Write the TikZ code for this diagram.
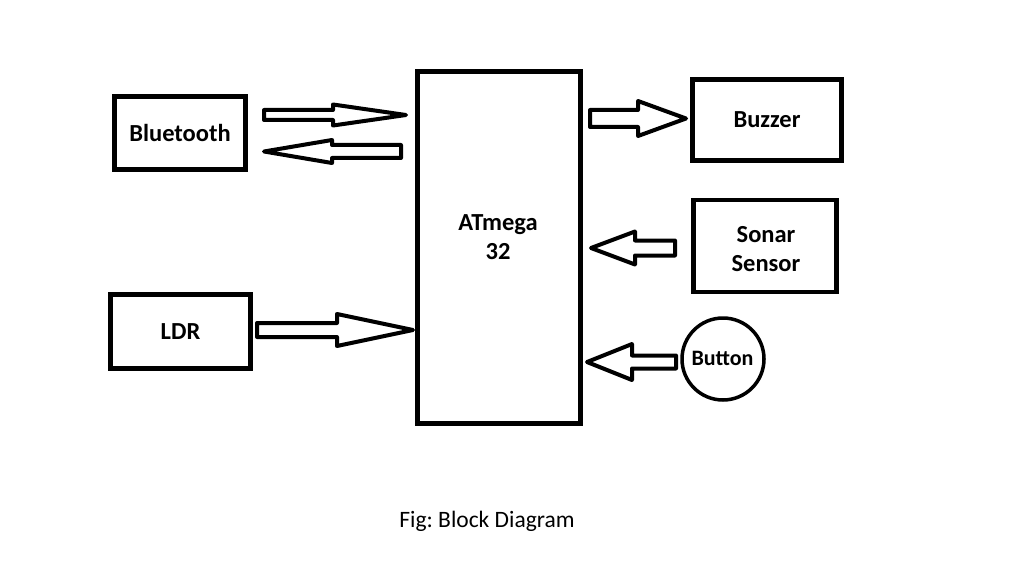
\documentclass[tikz,border=0pt]{standalone}
\usepackage{fontspec}
\setmainfont{Carlito}
\usetikzlibrary{calc}
\frenchspacing
\tikzset{
  boxfont/.style={font=\bfseries\fontsize{24.5}{28.5}\selectfont},
  boxnode/.style={draw, line width=4.5pt, minimum width=#1, inner sep=0pt, align=center, boxfont},
  blockarrow/.style n args={3}{draw, line width=4pt, line join=round,
    to path={let \p1=(\tikztostart), \p2=(\tikztotarget), \n1={(\x2>\x1)?1:-1} in
      (\x1,\y1+#1pt) -- (\x2-\n1*#3pt,\y1+#1pt) -- (\x2-\n1*#3pt,\y1+#2pt) -- (\x2,\y1)
      -- (\x2-\n1*#3pt,\y1-#2pt) -- (\x2-\n1*#3pt,\y1-#1pt) -- (\x1,\y1-#1pt) -- cycle}},
  lbl/.style={boxfont, align=center, inner sep=0pt}
}
\begin{document}
\begin{tikzpicture}[x=1pt,y=-1pt]
\useasboundingbox[fill=white] (0,0) rectangle (1024,572);
% blocks
\node[boxnode=131pt, minimum height=73pt] (bt) at (180,133) {Bluetooth};
\node[boxnode=140pt, minimum height=74pt] (ldr) at (180.5,331.5) {LDR};
\node[boxnode=163pt, minimum height=352pt] (atm) at (499,247.5) {};
\node[lbl] (atmtxt) at (498,237) {ATmega\\32};
\node[boxnode=149pt, minimum height=81pt] (buz) at (767,120) {Buzzer};
\node[boxnode=143pt, minimum height=92pt] (son) at (765,246) {};
\node[lbl] (sontxt) at (766,249) {Sonar\\Sensor};
\node[circle, draw, line width=3.5pt, minimum size=82pt, inner sep=0pt] (btn) at (723,359) {};
\node[lbl, font=\bfseries\fontsize{22}{26}\selectfont] (btntxt) at (722.5,358) {Button};
% arrow ends
\coordinate (bt1s) at (264,115);  \coordinate (bt1e) at (406,115);
\coordinate (bt2s) at (401,151.5); \coordinate (bt2e) at (264,151.5);
\coordinate (buzs) at (590,118.5); \coordinate (buze) at (686,118.5);
\coordinate (sons) at (675,248);  \coordinate (sone) at (591,248);
\coordinate (ldrs) at (257,330);  \coordinate (ldre) at (413,330);
\coordinate (btns) at (676,362);  \coordinate (btne) at (587,362);
% connectors
\draw[blockarrow={5}{10.5}{73}] (bt1s) to (bt1e);
\draw[blockarrow={6.5}{11.5}{68}] (bt2s) to (bt2e);
\draw[blockarrow={8.5}{17.5}{48}] (buzs) to (buze);
\draw[blockarrow={7.5}{16.5}{44}] (sons) to (sone);
\draw[blockarrow={7}{16}{76}] (ldrs) to (ldre);
\draw[blockarrow={6.5}{18}{45}] (btns) to (btne);
% caption
\node[anchor=base, inner sep=0pt, font=\fontsize{23.5}{26}\selectfont] (cap) at (487,527) {Fig: Block Diagram};
\end{tikzpicture}
\end{document}
